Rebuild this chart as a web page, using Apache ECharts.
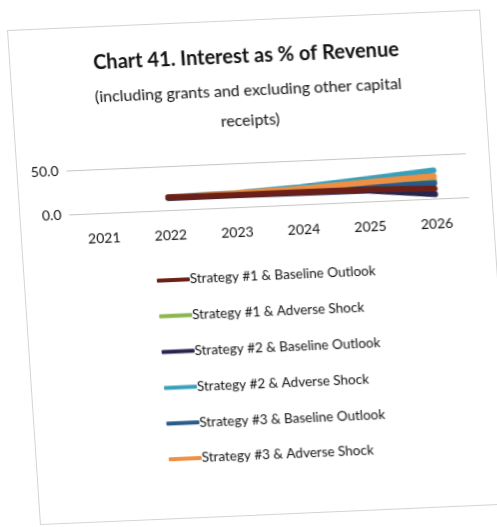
<!DOCTYPE html>
<html>
<head>
<meta charset="utf-8">
<script src="https://cdn.jsdelivr.net/npm/echarts@6/dist/echarts.min.js"></script>
<style>
  html, body { margin: 0; padding: 0; background: #ffffff; width: 497px; height: 527px; overflow: hidden; }
  #card {
    position: absolute; left: 7px; top: 30px; width: 474px; height: 496px;
    box-sizing: border-box; border: 1px solid #d4d4d4; background: #ffffff;
    transform-origin: 0 0;
    transform: matrix(0.998, -0.0433, 0.0665, 0.998, 0, 0);
  }
  #chart { width: 100%; height: 100%; }
</style>
</head>
<body>
<div id="card"><div id="chart"></div></div>
<script>
// Interest as % of revenue, by strategy and outlook
const years = ['2021', '2022', '2023', '2024', '2025', '2026'];
const s1Baseline = [null, 14.5, 14.0, 14.0, 13.5, 11.5];
const s1Adverse  = [null, 14.5, 15.0, 17.0, 19.0, 21.0];
const s2Baseline = [null, 14.0, 13.5, 13.0, 12.5, 5.0];
const s2Adverse  = [null, 14.5, 16.0, 19.5, 25.5, 32.0];
const s3Baseline = [null, 14.5, 14.5, 15.0, 16.0, 17.5];
const s3Adverse  = [null, 14.5, 15.5, 18.0, 22.0, 25.5];
const yTicks = [0, 50];

const FONT = 'Lato, "Noto Sans", sans-serif';

const seriesDefs = [
  { name: 'Strategy #1 & Baseline Outlook', data: s1Baseline, color: '#6a2018', z: 8 },
  { name: 'Strategy #1 & Adverse Shock',    data: s1Adverse,  color: '#8db551', z: 3 },
  { name: 'Strategy #2 & Baseline Outlook', data: s2Baseline, color: '#27244f', z: 7 },
  { name: 'Strategy #2 & Adverse Shock',    data: s2Adverse,  color: '#3aa0ba', z: 2 },
  { name: 'Strategy #3 & Baseline Outlook', data: s3Baseline, color: '#2a5a8a', z: 4 },
  { name: 'Strategy #3 & Adverse Shock',    data: s3Adverse,  color: '#ef8f43', z: 5 }
];

const chart = echarts.init(document.getElementById('chart'), null, { renderer: 'canvas' });

const titleStyle = { fontFamily: FONT, fontWeight: 'bold', fontSize: 20, lineHeight: 24, color: '#111' };
const subStyle = { fontFamily: FONT, fontWeight: 'normal', fontSize: 16, lineHeight: 20, color: '#111' };

chart.setOption({
  animation: false,
  color: seriesDefs.map(s => s.color),
  title: [
    { text: 'Chart 41. Interest as % of Revenue', left: 'center', top: 24, padding: 0, textStyle: titleStyle },
    { text: '(including grants and excluding other capital', left: 'center', top: 60, padding: 0, textStyle: subStyle },
    { text: 'receipts)', left: 'center', top: 90, padding: 0, textStyle: subStyle }
  ],
  legend: {
    orient: 'vertical',
    left: 132, top: 247,
    padding: 0,
    icon: 'roundRect',
    itemWidth: 33, itemHeight: 4,
    itemGap: 17.8,
    textStyle: { fontFamily: FONT, fontSize: 13.5, lineHeight: 18, color: '#111', padding: [0, 0, 0, -5] },
    data: seriesDefs.map(s => s.name)
  },
  grid: { left: 49, right: 23, top: 142, height: 44, containLabel: false },
  xAxis: {
    type: 'category',
    data: years,
    boundaryGap: true,
    axisLine: { show: true, lineStyle: { color: '#c4c4c4', width: 1 } },
    axisTick: { show: false },
    axisLabel: { fontFamily: FONT, fontSize: 14, color: '#111', margin: 18 }
  },
  yAxis: {
    type: 'value',
    min: yTicks[0], max: yTicks[yTicks.length - 1], interval: yTicks[1] - yTicks[0],
    axisLine: { show: false },
    axisTick: { show: false },
    splitLine: { lineStyle: { color: '#c4c4c4', width: 1 } },
    axisLabel: { fontFamily: FONT, fontSize: 14, color: '#111', margin: 8,
      formatter: v => v.toFixed(1) }
  },
  series: seriesDefs.map(s => ({
    name: s.name,
    type: 'line',
    data: s.data,
    z: s.z,
    symbol: 'none',
    connectNulls: false,
    lineStyle: { width: 6, color: s.color, cap: 'round', join: 'round' },
    itemStyle: { color: s.color }
  }))
});
</script>
</body>
</html>
